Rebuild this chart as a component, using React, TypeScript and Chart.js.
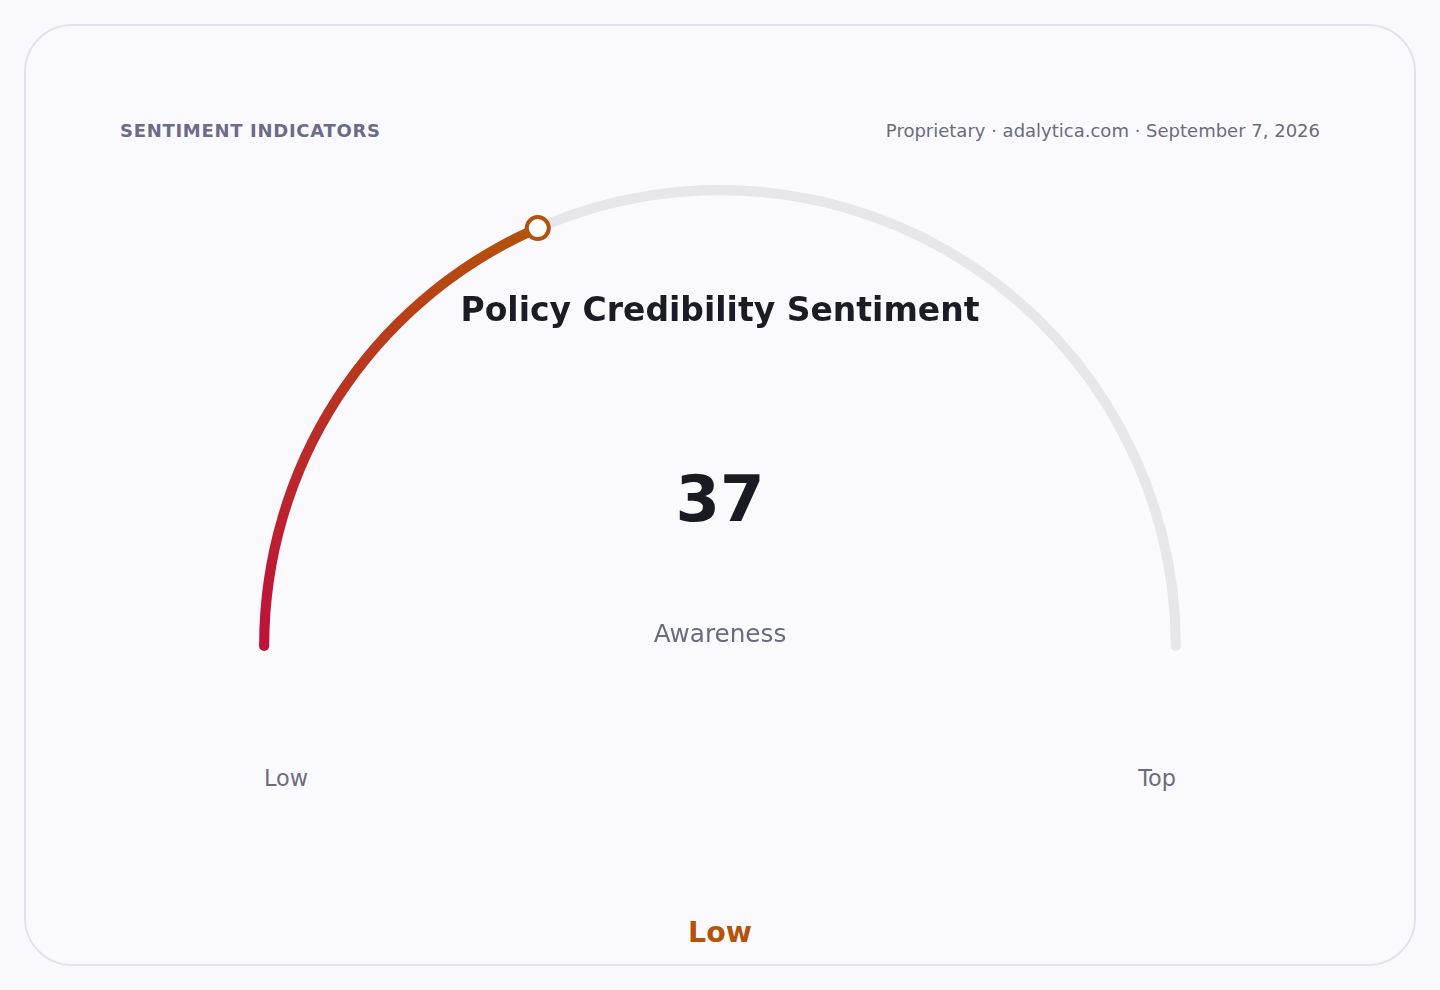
import React, { useEffect, useRef } from "react";
import { Chart, ChartConfiguration, Plugin, registerables } from "chart.js";

Chart.register(...registerables);

const gaugeLabels = ["Awareness", "Remaining"];
const gaugeValue = 37;
const gaugeMax = 100;
const gaugeData = [gaugeValue, gaugeMax - gaugeValue];
const scaleLabels = ["Low", "Top"];
const bandLabel = "Low";

const FONT = "'DejaVu Sans', Verdana, sans-serif";
const ACCENT = "#b45309";
const START = "#be123c";
const TRACK = "#e6e6eb";
const MUTED = "#6b6b80";
// extra sweep so the rounded ends reach a little below the centre line
const CAP_DEG = 0.63;

/** Draws the open circle at the end of the value arc. */
const markerPlugin: Plugin<"doughnut"> = {
  id: "gaugeMarker",
  afterDatasetsDraw(chart) {
    const arc: any = chart.getDatasetMeta(0).data[0];
    if (!arc) {
      return;
    }
    const { x, y, endAngle, innerRadius, outerRadius } = arc.getProps(
      ["x", "y", "endAngle", "innerRadius", "outerRadius"], true);
    const r = (innerRadius + outerRadius) / 2;
    const ctx = chart.ctx;
    ctx.save();
    ctx.beginPath();
    ctx.arc(x + Math.cos(endAngle) * r, y + Math.sin(endAngle) * r, 11, 0, Math.PI * 2);
    ctx.fillStyle = "#ffffff";
    ctx.fill();
    ctx.lineWidth = 4;
    ctx.strokeStyle = ACCENT;
    ctx.stroke();
    ctx.restore();
  },
};

/** Linear gradient along the value arc, from its start to its end. */
function valueGradient(chart: Chart): CanvasGradient | string {
  const area = chart.chartArea;
  if (!area) {
    return ACCENT;
  }
  const R = (area.right - area.left) / 2;
  const cx = area.left + R;
  const cy = area.top + R;
  const cap = CAP_DEG * Math.PI / 180;
  const a0 = Math.PI - cap;
  const a1 = a0 + (gaugeValue / gaugeMax) * (Math.PI + 2 * cap);
  const g = chart.ctx.createLinearGradient(
    cx + Math.cos(a0) * R, cy + Math.sin(a0) * R,
    cx + Math.cos(a1) * R, cy + Math.sin(a1) * R);
  g.addColorStop(0, START);
  g.addColorStop(1, ACCENT);
  return g;
}

const GaugeChart = () => {
  const canvas = useRef<HTMLCanvasElement>(null);
  useEffect(() => {
    const config: ChartConfiguration<"doughnut"> = {
      type: "doughnut",
      data: {
        labels: gaugeLabels,
        datasets: [{
          data: gaugeData,
          backgroundColor: (c: any) => c.dataIndex === 0 ? valueGradient(c.chart) : TRACK,
          borderWidth: 0,
          borderRadius: 5,
        }],
      },
      options: {
        responsive: false,
        animation: false,
        rotation: -90 - CAP_DEG,
        circumference: 180 + 2 * CAP_DEG,
        cutout: "97.8%",
        layout: { padding: 10 },
        plugins: {
          legend: { display: false },
          tooltip: { enabled: false },
        },
        events: [],
      },
      plugins: [markerPlugin],
    };
    const chart = new Chart(canvas.current!.getContext("2d")!, config);
    return () => chart.destroy();
  }, []);

  return (
    <canvas ref={canvas} width={942} height={486}
      style={{ position: "absolute", left: 249, top: 175, width: 942, height: 486 }} />
  );
};

// places text so that its baseline sits at y
const Text = ({ y, size, children, style }: {
  y: number, size: number, children: React.ReactNode, style?: React.CSSProperties,
}) => (
  <div style={{
    position: "absolute", top: y - 0.846 * size, fontSize: size, lineHeight: 1,
    whiteSpace: "nowrap", fontFamily: FONT, ...style,
  }}>
    {children}
  </div>
);

export default function App() {
  return (
    <div style={{
      position: "absolute", left: 0, top: 0, width: 1440, height: 990,
      background: "#f9f9fd", overflow: "hidden",
    }}>
      <div style={{
        position: "absolute", left: 24, top: 24, width: 1392, height: 942,
        boxSizing: "border-box", border: "2px solid #e2e2ee", borderRadius: 48,
        background: "#fafafe",
      }} />
      <Text y={137} size={18} style={{
        left: 120, fontWeight: "bold", color: "#6b6b8a", letterSpacing: 0.7,
      }}>
        SENTIMENT INDICATORS
      </Text>
      <Text y={137} size={18} style={{ right: 120, color: MUTED }}>
        Proprietary · adalytica.com · September 7, 2026
      </Text>
      <GaugeChart />
      <Text y={321} size={33} style={{
        left: 0, width: 1440, textAlign: "center", fontWeight: "bold", color: "#1c1c24",
      }}>
        Policy Credibility Sentiment
      </Text>
      <Text y={521} size={64} style={{
        left: 0, width: 1440, textAlign: "center", fontWeight: "bold", color: "#1a1a22",
      }}>
        {gaugeValue}
      </Text>
      <Text y={643} size={24.7} style={{
        left: 0, width: 1440, textAlign: "center", color: MUTED,
      }}>
        {gaugeLabels[0]}
      </Text>
      <Text y={786} size={22.4} style={{ left: 264, color: MUTED }}>
        {scaleLabels[0]}
      </Text>
      <Text y={786} size={22.4} style={{ right: 1440 - 1176, color: MUTED }}>
        {scaleLabels[1]}
      </Text>
      <Text y={943} size={28.4} style={{
        left: 0, width: 1440, textAlign: "center", fontWeight: "bold", color: ACCENT,
      }}>
        {bandLabel}
      </Text>
    </div>
  );
}
